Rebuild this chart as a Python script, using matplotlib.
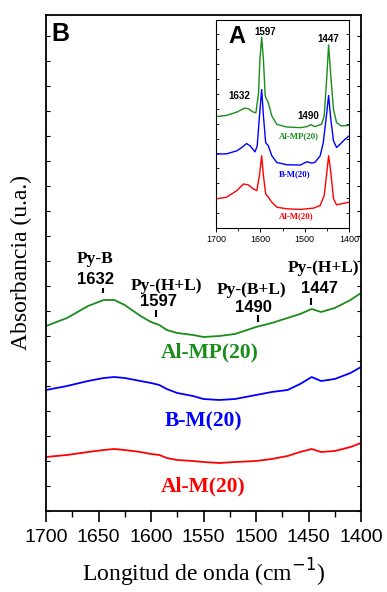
import numpy as np
import matplotlib
matplotlib.use("Agg")
import matplotlib.pyplot as plt
from matplotlib.ticker import MultipleLocator

# ---- main panel (B) data: wavenumber [cm-1] vs absorbance (a.u., offset)
wn_main = [1700, 1680, 1660, 1645, 1635, 1625, 1610, 1600, 1592, 1585, 1575,
           1560, 1550, 1535, 1520, 1500, 1485, 1470, 1458, 1447, 1438, 1425,
           1410, 1400]
abs_alm_p = [1.85, 1.93, 2.05, 2.11, 2.11, 2.06, 1.95, 1.89, 1.86, 1.81, 1.78,
             1.76, 1.74, 1.75, 1.77, 1.84, 1.88, 1.93, 1.97, 2.02, 1.99, 2.03,
             2.11, 2.18]
abs_bm = [1.21, 1.25, 1.30, 1.33, 1.34, 1.33, 1.30, 1.28, 1.26, 1.22, 1.18,
          1.15, 1.12, 1.11, 1.12, 1.16, 1.19, 1.21, 1.27, 1.34, 1.30, 1.32,
          1.38, 1.44]
abs_alm = [0.54, 0.56, 0.59, 0.61, 0.62, 0.61, 0.59, 0.57, 0.56, 0.53, 0.51,
           0.50, 0.49, 0.48, 0.49, 0.50, 0.52, 0.55, 0.59, 0.62, 0.59, 0.60,
           0.64, 0.68]

# ---- inset (A) data
wn_ins_g = [1700, 1676, 1653, 1635, 1627, 1616, 1610, 1604, 1601, 1597, 1593,
            1589, 1582, 1574, 1563, 1541, 1510, 1495, 1486, 1477, 1462, 1456,
            1450, 1446, 1441, 1435, 1428, 1417, 1400]
abs_ins_g = [3.36, 3.40, 3.50, 3.62, 3.60, 3.50, 3.48, 4.08, 5.08, 5.76, 5.08,
             3.98, 3.78, 3.38, 3.13, 3.05, 3.03, 3.06, 3.12, 3.06, 3.13, 3.38,
             4.58, 5.53, 4.58, 3.58, 3.18, 3.08, 3.10]
wn_ins_b = [1700, 1676, 1653, 1642, 1631, 1623, 1612, 1607, 1602, 1597, 1593,
            1588, 1582, 1574, 1563, 1541, 1510, 1495, 1484, 1477, 1465, 1458,
            1451, 1446, 1441, 1435, 1428, 1420, 1409, 1400]
abs_ins_b = [2.23, 2.24, 2.33, 2.43, 2.55, 2.48, 2.30, 2.48, 3.38, 4.18, 3.38,
             2.58, 2.48, 2.18, 1.98, 1.91, 1.90, 2.00, 1.96, 1.98, 2.18, 2.58,
             3.38, 4.00, 3.28, 2.63, 2.43, 2.53, 2.68, 2.78]
wn_ins_r = [1700, 1676, 1653, 1638, 1627, 1616, 1608, 1602, 1597, 1593, 1588,
            1582, 1574, 1563, 1541, 1510, 1480, 1465, 1456, 1450, 1446, 1441,
            1435, 1428, 1417, 1400]
abs_ins_r = [0.88, 0.93, 1.13, 1.33, 1.30, 1.18, 1.13, 1.58, 2.18, 1.58, 1.03,
             0.93, 0.78, 0.63, 0.58, 0.56, 0.60, 0.68, 0.98, 1.68, 2.18, 1.68,
             0.88, 0.70, 0.73, 0.78]

green = '#1a8c1a'
blue = '#0000ff'
red = '#ff0000'

plt.rcParams['font.family'] = ['Liberation Sans', 'DejaVu Sans']
serif = ['Liberation Serif', 'DejaVu Serif']

fig = plt.figure(figsize=(3.87, 5.92), dpi=100)
ax = fig.add_axes([46/387, 81/592, 315/387, 496/592])

ax.plot(wn_main, abs_alm_p, color=green, lw=1.3)
ax.plot(wn_main, abs_bm, color=blue, lw=1.3)
ax.plot(wn_main, abs_alm, color=red, lw=1.3)

ax.set_xlim(1700, 1400)
ax.set_ylim(0, 4.96)
ax.xaxis.set_major_locator(MultipleLocator(50))
ax.xaxis.set_minor_locator(MultipleLocator(25))
ax.yaxis.set_major_locator(MultipleLocator(0.25))
ax.tick_params(axis='x', which='major', direction='out', length=8, width=1.2,
               labelsize=14, pad=5)
ax.tick_params(axis='x', which='minor', direction='out', length=4, width=1.0)
ax.tick_params(axis='y', which='major', direction='in', length=3, width=0.8,
               left=True, right=True, labelleft=False)
for s in ax.spines.values():
    s.set_linewidth(1.3)

ax.set_xlabel('Longitud de onda (cm$^{-1}$)', family=serif, fontsize=17)
ax.xaxis.set_label_coords(0.5, -0.092)
ax.set_ylabel('Absorbancia (u.a.)', family=serif, fontsize=17)
ax.yaxis.set_label_coords(-0.045, 0.5)

ax.text(1686, 4.77, 'B', fontsize=18, fontweight='bold', ha='center', va='center')

# band assignments
bands = [
    ('Py-B', '1632', 1653, 2.52, 1653, 2.32, 1646, 2.18, 2.23),
    ('Py-(H+L)', '1597', 1585, 2.25, 1593, 2.10, 1595, 1.94, 2.01),
    ('Py-(B+L)', '1490', 1504, 2.21, 1502, 2.04, 1498, 1.89, 1.96),
    ('Py-(H+L)', '1447', 1436, 2.43, 1440, 2.22, 1447.6, 2.06, 2.13),
]
for name, num, xn, yn, xv, yv, xt, y0, y1 in bands:
    ax.text(xn, yn, name, family=serif, fontsize=12.5, fontweight='bold',
            ha='center', va='center')
    ax.text(xv, yv, num, fontsize=12, fontweight='bold', ha='center', va='center')
    ax.vlines(xt, y0, y1, color='black', lw=1.5)

ax.text(1544, 1.59, 'Al-MP(20)', family=serif, fontsize=15.5, fontweight='bold',
        color=green, ha='center', va='center')
ax.text(1550, 0.90, 'B-M(20)', family=serif, fontsize=15.5, fontweight='bold',
        color=blue, ha='center', va='center')
ax.text(1550, 0.25, 'Al-M(20)', family=serif, fontsize=15.5, fontweight='bold',
        color=red, ha='center', va='center')

# ---- inset
axi = fig.add_axes([216/387, 364/592, 133/387, 208/592])
axi.plot(wn_ins_g, abs_ins_g, color=green, lw=1.0)
axi.plot(wn_ins_b, abs_ins_b, color=blue, lw=1.0)
axi.plot(wn_ins_r, abs_ins_r, color=red, lw=1.0)
axi.set_xlim(1700, 1400)
axi.set_ylim(0, 6.28)
axi.xaxis.set_major_locator(MultipleLocator(100))
axi.xaxis.set_minor_locator(MultipleLocator(50))
axi.yaxis.set_major_locator(MultipleLocator(0.45))
axi.tick_params(axis='x', which='major', direction='out', length=3, width=0.7,
                labelsize=6.5, pad=2)
axi.tick_params(axis='x', which='minor', direction='out', length=2, width=0.6)
axi.tick_params(axis='y', which='major', direction='in', length=2, width=0.6,
                left=True, right=True, labelleft=False)
for s in axi.spines.values():
    s.set_linewidth(0.8)

axi.text(1653, 5.78, 'A', fontsize=17, fontweight='bold', ha='center', va='center')
for txt, x, y in [('1597', 1588, 5.93), ('1447', 1447, 5.70),
                  ('1632', 1648, 4.00), ('1490', 1492, 3.38)]:
    axi.text(x, y, txt, fontsize=7, fontweight='bold', ha='center', va='center')
axi.text(1514, 2.77, 'Al-MP(20)', family=serif, fontsize=6.3, fontweight='bold',
         color=green, ha='center', va='center')
axi.text(1523, 1.61, 'B-M(20)', family=serif, fontsize=6.3, fontweight='bold',
         color=blue, ha='center', va='center')
axi.text(1520, 0.36, 'Al-M(20)', family=serif, fontsize=6.3, fontweight='bold',
         color=red, ha='center', va='center')

fig.savefig('out.png', dpi=100)
